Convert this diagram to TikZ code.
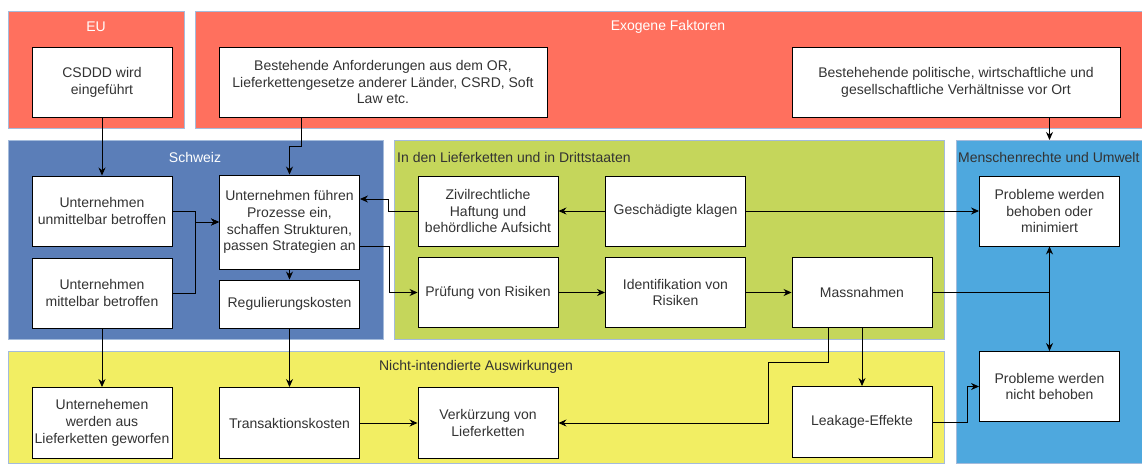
\documentclass[tikz,border=0pt]{standalone}
\usepackage{fontspec}
\setmainfont{Liberation Sans}
\usepackage{xcolor}
\definecolor{vizRed}{HTML}{FF705E}
\definecolor{vizSwiss}{HTML}{5B7EB8}
\definecolor{vizChain}{HTML}{C5D65B}
\definecolor{vizSide}{HTML}{F2EE63}
\definecolor{vizHuman}{HTML}{4EA8DE}
\definecolor{vizBorder}{HTML}{A4BBDB}
\definecolor{vizText}{HTML}{333333}
\usetikzlibrary{arrows.meta}

\begin{document}
\begin{tikzpicture}[x=1pt, y=-1pt,
  grp/.style={draw=vizBorder, line width=0.8pt, inner sep=0pt, anchor=north west},
  box/.style={draw=black, fill=white, line width=0.9pt, minimum width=140pt, minimum height=70pt,
    inner sep=2pt, align=center, text=vizText, font=\fontsize{14}{16.8}\selectfont},
  ttl/.style={inner sep=0pt, font=\fontsize{14}{16.8}\selectfont},
  lnk/.style={draw=black, line width=0.9pt},
  arr/.style={lnk, -{Stealth[length=8pt, width=7pt]}}]
  \useasboundingbox (0,0) rectangle (1142,463);

  \node[grp, fill=vizRed, minimum width=176pt, minimum height=117pt] (eu) at (8,11) {};
  \node[grp, fill=vizRed, minimum width=947pt, minimum height=117pt] (exo) at (195,11) {};
  \node[grp, fill=vizSwiss, minimum width=375pt, minimum height=199pt] (swiss) at (8,140) {};
  \node[grp, fill=vizChain, minimum width=550pt, minimum height=199pt] (chain) at (394,140) {};
  \node[grp, fill=vizHuman, minimum width=186pt, minimum height=323pt] (human) at (956,140) {};
  \node[grp, fill=vizSide, minimum width=936pt, minimum height=112pt] (side) at (8,351) {};

  \node[ttl, text=white] (euT) at (96,27) {EU};
  \node[ttl, text=white] (exoT) at (668,27) {Exogene Faktoren};
  \node[ttl, text=white] (swissT) at (195,157) {Schweiz};
  \node[ttl, text=vizText, anchor=west] (chainT) at (397,157) {In den Lieferketten und in Drittstaaten};
  \node[ttl, text=vizText, anchor=west] (humanT) at (958,157) {Menschenrechte und Umwelt};
  \node[ttl, text=vizText] (sideT) at (476,367) {Nicht-intendierte Auswirkungen};

  \node[box] (csddd) at (102,82) {CSDDD wird\\eingeführt};
  \node[box, minimum width=328pt] (anf) at (383,82) {Bestehende Anforderungen aus dem OR,\\Lieferkettengesetze anderer Länder, CSRD, Soft\\Law etc.};
  \node[box, minimum width=328pt] (pol) at (956,82) {Bestehehende politische, wirtschaftliche und\\gesellschaftliche Verhältnisse vor Ort};

  \node[box] (unmittel) at (102,211) {Unternehmen\\unmittelbar betroffen};
  \node[box] (mittel) at (102,293) {Unternehmen\\mittelbar betroffen};
  \node[box, minimum height=94pt] (prozesse) at (289.5,222) {Unternehmen führen\\Prozesse ein,\\schaffen Strukturen,\\passen Strategien an};
  \node[box, minimum height=48pt] (regkost) at (289.5,304) {Regulierungskosten};

  \node[box] (zivil) at (488,211) {Zivilrechtliche\\Haftung und\\behördliche Aufsicht};
  \node[box] (klagen) at (675.5,211) {Geschädigte klagen};
  \node[box] (pruefung) at (488,292.5) {Prüfung von Risiken};
  \node[box] (ident) at (675.5,292.5) {Identifikation von\\Risiken};
  \node[box] (massn) at (862,292.5) {Massnahmen};

  \node[box] (behoben) at (1049.5,211) {Probleme werden\\behoben oder\\minimiert};
  \node[box] (nichtbeh) at (1049.5,386.5) {Probleme werden\\nicht behoben};

  \node[box, minimum height=71pt] (rauswurf) at (102,423) {Unternehemen\\werden aus\\Lieferketten geworfen};
  \node[box, minimum height=71pt] (transakt) at (289.5,423) {Transaktionskosten};
  \node[box, minimum height=71pt] (verkuerz) at (488,423) {Verkürzung von\\Lieferketten};
  \node[box, minimum height=71pt] (leakage) at (862,422) {Leakage-Effekte};

  \draw[arr] (csddd.south) -- (unmittel.north);
  \draw[arr] ([xshift=-82pt]anf.south) -- ++(0,29) -| (prozesse.north);
  \draw[arr] (pol.south -| behoben.south) -- (human.north -| behoben.south);
  \draw[arr] (unmittel.east) -- ++(23,0) |- (prozesse.west);
  \draw[arr] (mittel.east) -- ++(23,0) |- (prozesse.west);
  \draw[arr] (zivil.west) -- ++(-29,0) |- ([yshift=23pt]prozesse.east);
  \draw[arr] ([yshift=-24pt]prozesse.east) -- ++(29,0) |- (pruefung.west);
  \draw[arr] (prozesse.south) -- (regkost.north);
  \draw[arr] (klagen.west) -- (zivil.east);
  \draw[arr] (klagen.east) -- (behoben.west);
  \draw[arr] (pruefung.east) -- (ident.west);
  \draw[arr] (ident.east) -- (massn.west);
  \draw[lnk] (massn.east) -- (massn.east -| behoben.south);
  \draw[arr] (massn.east -| behoben.south) -- (behoben.south);
  \draw[arr] (massn.east -| behoben.south) -- (nichtbeh.north);
  \draw[arr] (massn.south) -- (leakage.north);
  \draw[arr] ([xshift=-34pt]massn.south) -- ++(0,34) -- ++(-60,0) |- (verkuerz.east);
  \draw[arr] (transakt.east) -- (verkuerz.west);
  \draw[arr] (leakage.east) -- ++(35,0) |- (nichtbeh.west);
  \draw[arr] (mittel.south) -- (rauswurf.north);
  \draw[arr] (regkost.south) -- (transakt.north);
\end{tikzpicture}
\end{document}
